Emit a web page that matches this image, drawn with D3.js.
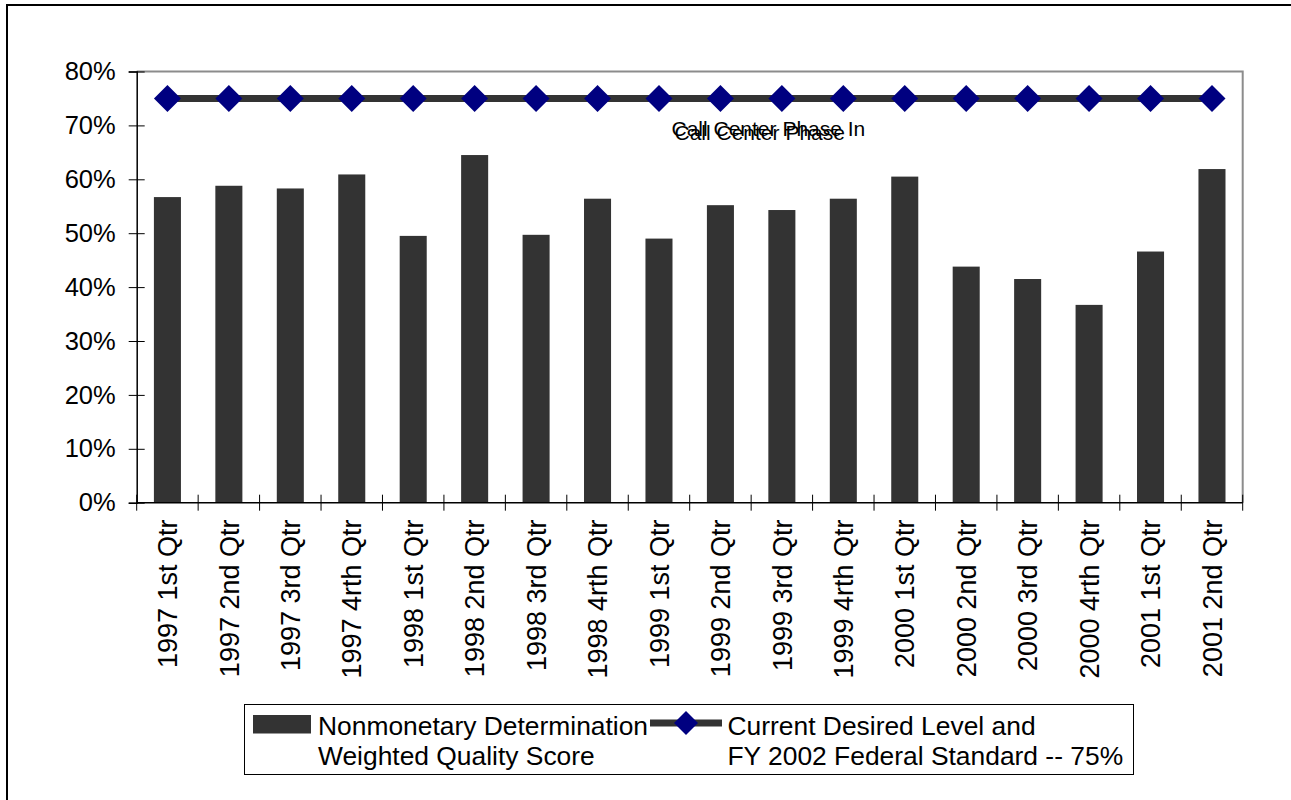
<!DOCTYPE html>
<html>
<head>
<meta charset="utf-8">
<script src="https://cdn.jsdelivr.net/npm/d3@7/dist/d3.min.js"></script>
<style>
  html, body { margin: 0; padding: 0; background: #fff; }
  svg { display: block; font-family: "Liberation Sans", Arial, sans-serif; }
</style>
</head>
<body>
<svg id="chart" width="1291" height="800"></svg>
<script>
// Quarterly nonmonetary determination quality scores (percent)
const categories = [
  "1997 1st Qtr", "1997 2nd Qtr", "1997 3rd Qtr", "1997 4rth Qtr",
  "1998 1st Qtr", "1998 2nd Qtr", "1998 3rd Qtr", "1998 4rth Qtr",
  "1999 1st Qtr", "1999 2nd Qtr", "1999 3rd Qtr", "1999 4rth Qtr",
  "2000 1st Qtr", "2000 2nd Qtr", "2000 3rd Qtr", "2000 4rth Qtr",
  "2001 1st Qtr", "2001 2nd Qtr"
];
const qualityScores = [
  56.7, 58.8, 58.3, 60.9, 49.5, 64.5, 49.7, 56.4, 49.0,
  55.2, 54.3, 56.4, 60.5, 43.8, 41.5, 36.7, 46.6, 61.9
];
const standardLevel = categories.map(() => 75);
const yTicks = [0, 10, 20, 30, 40, 50, 60, 70, 80];
const seriesNames = [
  ["Nonmonetary Determination", "Weighted Quality Score"],
  ["Current Desired Level and", "FY 2002 Federal Standard -- 75%"]
];
const annotations = ["Call Center Phase In", "Call Center Phase"];

const svg = d3.select("#chart");
const barColor = "#333333";
const markerColor = "#000080";

// outer frame
svg.append("rect")
  .attr("x", 7).attr("y", 5)
  .attr("width", 1300).attr("height", 820)
  .attr("fill", "none").attr("stroke", "#000").attr("stroke-width", 2);

const plot = { left: 136.7, right: 1242.7, top: 71.5, bottom: 502.7 };

const x = d3.scaleBand()
  .domain(categories)
  .range([plot.left, plot.right])
  .paddingInner(0.56)
  .paddingOuter(0.28);

const y = d3.scaleLinear()
  .domain([0, 80])
  .range([plot.bottom, plot.top]);

// plot area border (top and right)
svg.append("path")
  .attr("d", `M${plot.left},${plot.top}H${plot.right}V${plot.bottom}`)
  .attr("fill", "none").attr("stroke", "#8c8c8c").attr("stroke-width", 2);

// bars
svg.append("g").selectAll("rect")
  .data(categories)
  .join("rect")
  .attr("x", d => x(d))
  .attr("width", x.bandwidth())
  .attr("y", (d, i) => y(qualityScores[i]))
  .attr("height", (d, i) => y(0) - y(qualityScores[i]))
  .attr("fill", barColor);

// standard level line with diamond markers
const cx = d => x(d) + x.bandwidth() / 2;
svg.append("path")
  .datum(categories)
  .attr("d", d3.line().x(cx).y((d, i) => y(standardLevel[i])))
  .attr("fill", "none").attr("stroke", barColor).attr("stroke-width", 7);

const diamond = s => `M0,${-s}L${s},0L0,${s}L${-s},0Z`;
svg.append("g").selectAll("path")
  .data(categories)
  .join("path")
  .attr("transform", (d, i) => `translate(${cx(d)},${y(standardLevel[i])})`)
  .attr("d", diamond(13.5))
  .attr("fill", markerColor);

// overlapping annotation labels
svg.append("text")
  .attr("x", 671.5).attr("y", 135.5)
  .attr("font-size", 21).attr("fill", "#000")
  .text(annotations[0]);
svg.append("text")
  .attr("x", 674.5).attr("y", 139.5)
  .attr("font-size", 21).attr("fill", "#000")
  .text(annotations[1]);

// y axis
const yAxis = svg.append("g")
  .attr("transform", `translate(${plot.left},0)`)
  .call(d3.axisLeft(y).tickValues(yTicks).tickFormat(d => d + "%").tickSize(8).tickPadding(13));
yAxis.select(".domain").attr("stroke", "#000").attr("stroke-width", 1.5);
yAxis.selectAll(".tick line").attr("x1", 8).attr("stroke", "#000");
yAxis.selectAll(".tick text")
  .attr("font-size", 25.5).attr("font-family", "Liberation Sans, Arial, sans-serif")
  .attr("fill", "#000");

// x axis baseline and boundary ticks
const xAxis = svg.append("g");
xAxis.append("line")
  .attr("x1", plot.left).attr("x2", plot.right)
  .attr("y1", y(0)).attr("y2", y(0))
  .attr("stroke", "#000").attr("stroke-width", 1.5);
const boundaries = d3.range(categories.length + 1).map(i => plot.left + i * x.step());
xAxis.selectAll("line.tick")
  .data(boundaries)
  .join("line")
  .attr("class", "tick")
  .attr("x1", d => d).attr("x2", d => d)
  .attr("y1", y(0) - 8).attr("y2", y(0) + 8)
  .attr("stroke", "#000").attr("stroke-width", 1);
xAxis.selectAll("text")
  .data(categories)
  .join("text")
  .attr("transform", d => `translate(${cx(d)},519.5) rotate(-90)`)
  .attr("text-anchor", "end")
  .attr("dy", "0.36em")
  .attr("font-size", 27)
  .attr("fill", "#000")
  .text(d => d);

// legend
const legend = svg.append("g");
legend.append("rect")
  .attr("x", 244.5).attr("y", 704.5).attr("width", 889).attr("height", 70)
  .attr("fill", "#fff").attr("stroke", "#000").attr("stroke-width", 1);
legend.append("rect")
  .attr("x", 253).attr("y", 715).attr("width", 58).attr("height", 18.5)
  .attr("fill", barColor);
legend.append("line")
  .attr("x1", 650).attr("x2", 722).attr("y1", 723).attr("y2", 723)
  .attr("stroke", barColor).attr("stroke-width", 7);
legend.append("path")
  .attr("transform", "translate(686,723)")
  .attr("d", diamond(12))
  .attr("fill", markerColor);
const legendX = [318, 727.5];
seriesNames.forEach((lines, k) => {
  lines.forEach((t, j) => {
    legend.append("text")
      .attr("x", legendX[k]).attr("y", 734.5 + j * 30)
      .attr("font-size", 26.4).attr("fill", "#000")
      .text(t);
  });
});
</script>
</body>
</html>
